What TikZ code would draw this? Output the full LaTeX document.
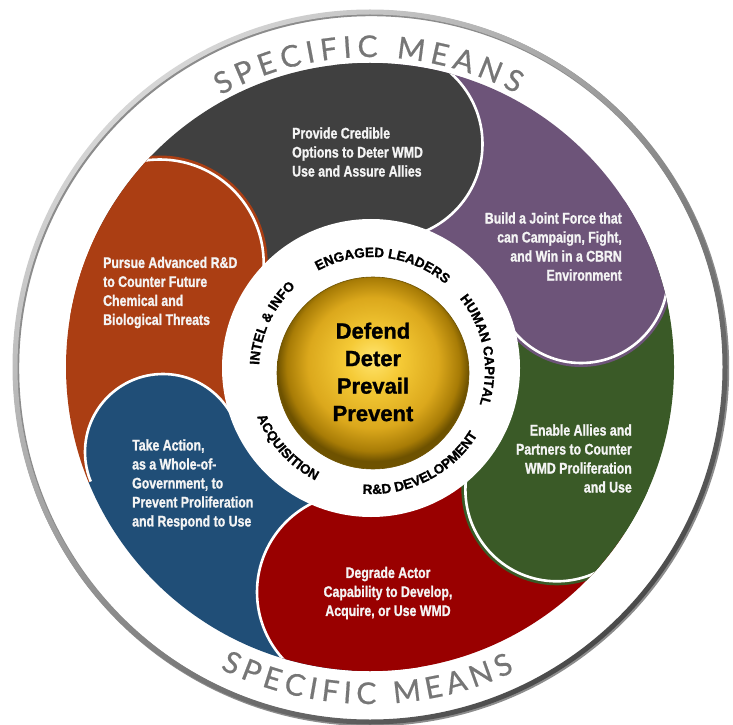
\documentclass[tikz,border=0pt]{standalone}
\usepackage{fontspec}
\setmainfont{Liberation Sans}
\newfontfamily\lobefont{Liberation Sans Bold}[FakeStretch=0.8, FakeBold=1.2]
\newfontfamily\ringfam{Liberation Sans Bold}[FakeBold=1.2]
\newfontfamily\meansfont{Lato}[FakeBold=0.6]
\usetikzlibrary{decorations.text}
\definecolor{grayC}{HTML}{404040}
\definecolor{purpleC}{HTML}{6D5479}
\definecolor{greenC}{HTML}{3A5A27}
\definecolor{redC}{HTML}{990000}
\definecolor{blueC}{HTML}{204E77}
\definecolor{orangeC}{HTML}{AB3E13}
\definecolor{textW}{HTML}{F4F4F4}
\definecolor{meansgray}{HTML}{767676}
\definecolor{ringA}{HTML}{D6D6D6}
\definecolor{ringB}{HTML}{4A4A4A}
\definecolor{goldA}{HTML}{FFE570}
\definecolor{goldB}{HTML}{F5CA36}
\definecolor{goldC}{HTML}{DBA81C}
\definecolor{goldD}{HTML}{A87C06}
\definecolor{goldE}{HTML}{6E5200}
\pgfdeclareradialshading{goldball}{\pgfpoint{0bp}{4bp}}{color(0bp)=(goldA); color(7bp)=(goldB); color(17bp)=(goldC); color(22.5bp)=(goldD); color(25bp)=(goldE); color(50bp)=(goldE)}
\tikzset{
  lobetext/.style={text=textW, inner sep=0pt, font=\lobefont\fontsize{15.4}{19}\selectfont},
  capline/.style={white, line width=2.6pt},
  ringword/.style={decorate, decoration={text along path, text align=center, text color=black}},
}
\newcommand{\ringfont}{\ringfam\fontsize{13.5}{16}\selectfont}
\newcommand{\meansfnt}{\meansfont\fontsize{30}{36}\selectfont}
% sector of the band between two angles (a1 > a2)
\newcommand{\bandsector}[3]{\fill[#1] (#2:130) -- (#2:320) arc[start angle=#2, end angle=#3, radius=320] -- (#3:130) arc[start angle=#3, end angle=#2, radius=130] -- cycle;}
% cap disk with sliver and white rim, visible clockwise of angle #2
\newcommand{\capdisk}[5]{%
  \fill[#1] (#3) circle[radius=#4];
  \begin{scope}
    \clip (0,0) -- (#2:400) arc[start angle=#2, end angle=#2-60, radius=400] -- cycle;
    \ifx#5y\draw[#1, line width=8pt] (#3) circle[radius=#4];\fi
    \draw[capline] (#3) circle[radius=#4];
  \end{scope}}
\begin{document}
\begin{tikzpicture}[x=1pt,y=1pt]
\useasboundingbox (0,0) rectangle (733,724);
\fill[white] (0,0) rectangle (733,724);
\coordinate (C) at (370,357);
% outer ring
\draw[black!45, line width=6pt] ([shift={(1.2,-1.2)}]C) circle[radius=355];
\shade[even odd rule, top color=ringA, bottom color=ringB, shading angle=40] (C) circle[radius=357.5] (C) circle[radius=352.5];
% lobes
\begin{scope}
\clip (C) circle[radius=304];
\begin{scope}[shift={(C)}]
\bandsector{orangeC}{202.3}{153.8}
\bandsector{blueC}{267.9}{202.3}
\capdisk{blueC}{202.3}{-207,-85}{78}{n}
\bandsector{redC}{-33.3}{-93.6}
\capdisk{redC}{-93.6}{-14,-225}{99}{n}
\bandsector{greenC}{23.3}{-33.3}
\capdisk{greenC}{-33.3}{186.9,-122.8}{91.5}{y}
\bandsector{purpleC}{85.5}{23.3}
\capdisk{purpleC}{23.3}{211,91}{87}{y}
\bandsector{grayC}{153.8}{85.5}
\capdisk{grayC}{85.5}{17.5,223}{95}{n}
\capdisk{orangeC}{153.8}{-210.3,103.5}{104}{y}
\end{scope}
\end{scope}
% inner white disk and gold ball
\fill[white] (371,356) circle[radius=149];
\shade[shading=goldball] (373,351) circle[radius=96];
\draw[goldE, line width=0.6pt] (373,351) circle[radius=96];
% SPECIFIC MEANS
\begin{scope}[shift={(C)}]
\path[decorate, decoration={text along path, text color=meansgray, text align={fit to path}, text={|\meansfnt|SPECIFIC MEANS}}]
  (118.8:310) arc[start angle=118.8, end angle=61.8, radius=310];
\path[decorate, decoration={text along path, text color=meansgray, text align={fit to path}, text={|\meansfnt|SPECIFIC MEANS}}]
  (243.6:337) arc[start angle=243.6, end angle=295.4, radius=337];
\end{scope}
% ring words
\begin{scope}[shift={(372,354)}]
\path[ringword, decoration={text={|\ringfont|ENGAGED LEADERS}}] (134:113) arc[start angle=134, end angle=34, radius=113];
\path[ringword, decoration={text={|\ringfont|HUMAN CAPITAL}}] (60.7:113) arc[start angle=60.7, end angle=-39.3, radius=113];
\path[ringword, decoration={text={|\ringfont|INTEL {\&} INFO}}] (205:113) arc[start angle=205, end angle=105, radius=113];
\path[ringword, decoration={text={|\ringfont|R{\&}D DEVELOPMENT}}] (247:124) arc[start angle=247, end angle=347, radius=124];
\path[ringword, decoration={text={|\ringfont|ACQUISITION}}] (172.5:124) arc[start angle=172.5, end angle=272.5, radius=124];
\end{scope}
% core text
\node[font=\ringfam\fontsize{22}{27.5}\selectfont, align=center, inner sep=0pt] (core) at (373,352) {Defend\\Deter\\Prevail\\Prevent};
% lobe texts
\node[lobetext, align=left, anchor=west] (tgray) at (292,572) {Provide Credible\\Options to Deter WMD\\Use and Assure Allies};
\node[lobetext, align=right, anchor=east] (tpurple) at (622,477.5) {Build a Joint Force that\\can Campaign, Fight,\\and Win in a CBRN\\Environment};
\node[lobetext, align=left, anchor=west] (torange) at (103,431.5) {Pursue Advanced R\&D\\to Counter Future\\Chemical and\\Biological Threats};
\node[lobetext, align=right, anchor=east] (tgreen) at (632,265.5) {Enable Allies and\\Partners to Counter\\WMD Proliferation\\and Use};
\node[lobetext, align=center] (tred) at (388,131) {Degrade Actor\\Capability to Develop,\\Acquire, or Use WMD};
\node[lobetext, align=left, anchor=west] (tblue) at (132,239.5) {Take Action,\\as a Whole-of-\\Government, to\\Prevent Proliferation\\and Respond to Use};
\end{tikzpicture}
\end{document}
